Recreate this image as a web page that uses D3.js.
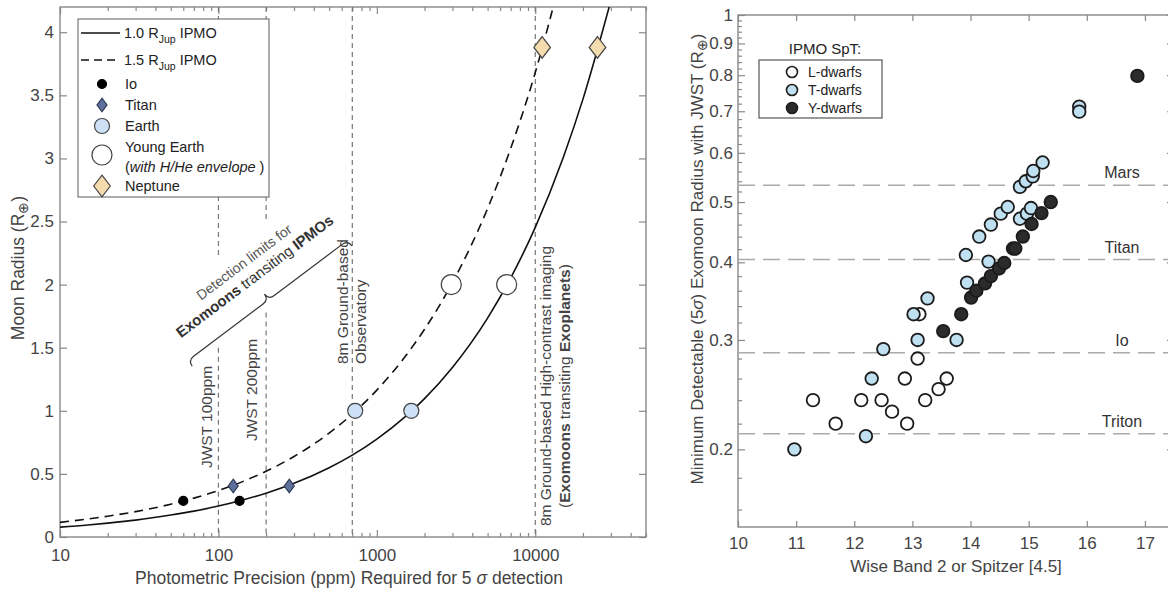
<!DOCTYPE html>
<html>
<head>
<meta charset="utf-8">
<script src="https://cdn.jsdelivr.net/npm/d3@7"></script>
<style>
  body { margin: 0; background: #fff; }
  svg { font-family: "Liberation Sans", Arial, sans-serif; }
</style>
</head>
<body>
<svg id="chart" width="1168" height="591"></svg>
<script>

// ---- panel A: radius vs photometric precision ----
const precision1Jup = [10, 15, 20, 30, 50, 70, 100, 150, 200, 300, 500, 700, 1000, 1500, 2000, 3000, 5000, 7000, 10000, 15000, 20000, 30000]
const radius1Jup = [0.078, 0.095, 0.110, 0.134, 0.174, 0.205, 0.245, 0.301, 0.347, 0.425, 0.549, 0.649, 0.776, 0.950, 1.097, 1.344, 1.735, 2.053, 2.454, 3.006, 3.470, 4.250]
const precision15Jup = [10, 15, 20, 30, 50, 70, 100, 150, 200, 300, 500, 700, 1000, 1500, 2000, 3000, 5000, 7000, 10000, 15000]
const radius15Jup = [0.116, 0.143, 0.165, 0.201, 0.260, 0.308, 0.368, 0.451, 0.521, 0.638, 0.823, 0.974, 1.164, 1.426, 1.646, 2.016, 2.603, 3.080, 3.681, 4.508]

const moonNames = ['Io', 'Titan', 'Earth', 'Young Earth', 'Neptune']
const moonRadius = [0.286, 0.404, 1.0, 2.0, 3.88]
const moonPpm1Jup = [136, 280, 1650, 6600, 24700]
const moonPpm15Jup = [60, 124, 730, 2950, 11050]

const limitPpm = [100, 200, 700, 10000]
const xTicksA = [10, 100, 1000, 10000]
const yTicksA = [0, 0.5, 1, 1.5, 2, 2.5, 3, 3.5, 4]

// ---- panel B: minimum detectable radius vs magnitude ----
const lDwarfMag = [11.29, 11.68, 12.12, 12.47, 12.65, 12.87, 12.91, 13.09, 13.12, 13.22, 13.45, 13.59]
const lDwarfRadius = [0.240, 0.220, 0.240, 0.240, 0.230, 0.260, 0.220, 0.280, 0.330, 0.240, 0.250, 0.260]
const tDwarfMag = [10.97, 12.20, 12.30, 12.50, 13.09, 13.02, 13.26, 13.76, 13.94, 13.92, 14.31, 14.15, 14.35, 14.52, 14.64, 14.85, 14.97, 15.04, 14.85, 14.95, 15.07, 15.08, 15.24, 15.87, 15.87]
const tDwarfRadius = [0.200, 0.210, 0.260, 0.290, 0.300, 0.330, 0.350, 0.300, 0.371, 0.411, 0.401, 0.440, 0.460, 0.479, 0.491, 0.470, 0.479, 0.489, 0.529, 0.540, 0.550, 0.561, 0.579, 0.712, 0.699]
const yDwarfMag = [13.53, 13.84, 14.01, 14.10, 14.25, 14.35, 14.49, 14.58, 14.73, 14.77, 14.90, 15.05, 15.22, 15.38, 16.87]
const yDwarfRadius = [0.310, 0.330, 0.351, 0.360, 0.370, 0.380, 0.391, 0.399, 0.421, 0.421, 0.440, 0.461, 0.480, 0.500, 0.798]

const refMoonNames = ['Mars', 'Titan', 'Io', 'Triton']
const refMoonRadius = [0.532, 0.404, 0.286, 0.212]

const xTicksB = [10, 11, 12, 13, 14, 15, 16, 17]
const yTicksB = [0.2, 0.3, 0.4, 0.5, 0.6, 0.7, 0.8, 0.9, 1]
const yMinorB = [0.16, 0.18, 0.22, 0.24, 0.26, 0.28, 0.32, 0.34, 0.36, 0.38, 0.42, 0.44, 0.46, 0.48, 0.52, 0.54, 0.56, 0.58, 0.62, 0.64, 0.66, 0.68, 0.72, 0.74, 0.76, 0.78, 0.82, 0.84, 0.86, 0.88, 0.92, 0.94, 0.96, 0.98]

const svg = d3.select('#chart')
const axisColor = '#888'
const textColor = '#444'

function styleAxis(g) {
    g.select('.domain').remove()
    g.selectAll('line').attr('stroke', axisColor).attr('stroke-width', 1.2)
    g.selectAll('text').attr('fill', textColor).style('font-size', '17px')
}

function diamond(w, h) {
    return `M0,${-h} L${w},0 L0,${h} L${-w},0 Z`
}

// marker styles per moon
const moonStyle = {
    'Io': { shape: 'circle', r: 4.5, fill: '#000', stroke: '#000' },
    'Titan': { shape: 'diamond', w: 5, h: 6.8, fill: '#5d6f9b', stroke: '#2f3a55' },
    'Earth': { shape: 'circle', r: 7.5, fill: '#cde0f6', stroke: '#444' },
    'Young Earth': { shape: 'circle', r: 10, fill: '#fff', stroke: '#444' },
    'Neptune': { shape: 'diamond', w: 8.3, h: 10.8, fill: '#f5dcae', stroke: '#444' }
}

function drawMarker(g, name, x, y) {
    const s = moonStyle[name]
    if (s.shape == 'circle') {
        g.append('circle').attr('cx', x).attr('cy', y).attr('r', s.r)
            .attr('fill', s.fill).attr('stroke', s.stroke).attr('stroke-width', 1.2)
    } else {
        g.append('path').attr('d', diamond(s.w, s.h)).attr('transform', `translate(${x},${y})`)
            .attr('fill', s.fill).attr('stroke', s.stroke).attr('stroke-width', 1.2)
    }
}

// ================= panel A =================
const A = { left: 60, right: 646, top: 7, bottom: 537 }
const xA = d3.scaleLog().domain([10, 50000]).range([A.left, A.right])
const yA = d3.scaleLinear().domain([0, 4.2]).range([A.bottom, A.top])

const gA = svg.append('g')

svg.append('clipPath').attr('id', 'clipA')
    .append('rect').attr('x', A.left).attr('y', A.top)
    .attr('width', A.right - A.left).attr('height', A.bottom - A.top)

// minor log ticks
const minorA = []
for (let dec = 10; dec < 50000; dec *= 10) {
    for (let k = 2; k <= 9; k++) if (dec * k <= 50000) minorA.push(dec * k)
}

gA.append('g').attr('transform', `translate(0,${A.bottom})`)
    .call(d3.axisBottom(xA).tickValues(xTicksA).tickFormat(d3.format('d')).tickSizeInner(-7).tickSizeOuter(0).tickPadding(12))
    .call(styleAxis)
gA.append('g').attr('transform', `translate(0,${A.bottom})`)
    .call(d3.axisBottom(xA).tickValues(minorA).tickFormat('').tickSizeInner(-4).tickSizeOuter(0))
    .call(styleAxis)
gA.append('g').attr('transform', `translate(0,${A.top})`)
    .call(d3.axisTop(xA).tickValues(xTicksA).tickFormat('').tickSizeInner(-7).tickSizeOuter(0))
    .call(styleAxis)
gA.append('g').attr('transform', `translate(0,${A.top})`)
    .call(d3.axisTop(xA).tickValues(minorA).tickFormat('').tickSizeInner(-4).tickSizeOuter(0))
    .call(styleAxis)
gA.append('g').attr('transform', `translate(${A.left},0)`)
    .call(d3.axisLeft(yA).tickValues(yTicksA).tickFormat(d3.format('~g')).tickSizeInner(-7).tickSizeOuter(0).tickPadding(6))
    .call(styleAxis)
gA.append('g').attr('transform', `translate(${A.right},0)`)
    .call(d3.axisRight(yA).tickValues(yTicksA).tickFormat('').tickSizeInner(-7).tickSizeOuter(0))
    .call(styleAxis)

gA.append('rect').attr('x', A.left).attr('y', A.top)
    .attr('width', A.right - A.left).attr('height', A.bottom - A.top)
    .attr('fill', 'none').attr('stroke', axisColor).attr('stroke-width', 1.4)

// detection limit lines (gaps where labels sit)
const limitGaps = {
    100: [[4.2, 2.22], [1.5, 0]],
    200: [[4.2, 2.5], [1.78, 0]],
    700: [[4.2, 0]],
    10000: [[4.2, 0]]
}
limitPpm.forEach(function (p) {
    limitGaps[p].forEach(function (seg) {
        gA.append('line')
            .attr('x1', xA(p)).attr('x2', xA(p))
            .attr('y1', yA(seg[0])).attr('y2', yA(seg[1]))
            .attr('stroke', '#777').attr('stroke-width', 1.2)
            .attr('stroke-dasharray', '5,4')
    })
})

// model curves
const line = d3.line().x((d) => xA(d[0])).y((d) => yA(d[1])).curve(d3.curveMonotoneX)
gA.append('path')
    .attr('d', line(precision1Jup.map((p, i) => [p, radius1Jup[i]])))
    .attr('clip-path', 'url(#clipA)')
    .attr('fill', 'none').attr('stroke', '#111').attr('stroke-width', 1.6)
gA.append('path')
    .attr('d', line(precision15Jup.map((p, i) => [p, radius15Jup[i]])))
    .attr('clip-path', 'url(#clipA)')
    .attr('fill', 'none').attr('stroke', '#111').attr('stroke-width', 1.6)
    .attr('stroke-dasharray', '9,6')

// moon markers on both curves
moonNames.forEach(function (name, i) {
    drawMarker(gA, name, xA(moonPpm15Jup[i]), yA(moonRadius[i]))
    drawMarker(gA, name, xA(moonPpm1Jup[i]), yA(moonRadius[i]))
})

// vertical labels
function vText(g, x, y, anchor) {
    return g.append('text')
        .attr('transform', `translate(${x},${y}) rotate(-90)`)
        .attr('text-anchor', anchor)
        .attr('fill', textColor)
        .style('font-size', '15.5px')
}
vText(gA, 212, 417, 'middle').text('JWST 100ppm')
vText(gA, 257, 390, 'middle').text('JWST 200ppm')
vText(gA, 348, 364, 'start').text('8m Ground-based')
vText(gA, 366, 364, 'start').text('Observatory')
vText(gA, 551, 386, 'middle').text('8m Ground-based High-contrast imaging')
const t2 = vText(gA, 570, 386, 'middle')
t2.append('tspan').text('(')
t2.append('tspan').attr('font-weight', 'bold').text('Exomoons')
t2.append('tspan').text(' transiting ')
t2.append('tspan').attr('font-weight', 'bold').text('Exoplanets')
t2.append('tspan').text(')')

// slanted annotation with brace
const ann = gA.append('g').attr('transform', 'translate(250,270) rotate(-37)')
ann.append('text').attr('x', 0).attr('y', -5).attr('text-anchor', 'middle')
    .attr('fill', '#555').style('font-size', '14px').text('Detection limits for')
const annT = ann.append('text').attr('x', 0).attr('y', 13).attr('text-anchor', 'middle')
    .attr('fill', '#333').style('font-size', '15px')
annT.append('tspan').attr('font-weight', 'bold').text('Exomoons')
annT.append('tspan').text(' transiting ')
annT.append('tspan').attr('font-weight', 'bold').text('IPMOs')

const bL = -104, bR = 96, bd = 42, br = 7, bc = -3
ann.append('path')
    .attr('d', `M${bL},${bd} Q${bL},${bd - br} ${bL + br},${bd - br} L${bc - br},${bd - br} Q${bc},${bd - br} ${bc},${bd - 2 * br} ` +
        `Q${bc},${bd - br} ${bc + br},${bd - br} L${bR - br},${bd - br} Q${bR},${bd - br} ${bR},${bd}`)
    .attr('fill', 'none').attr('stroke', '#333').attr('stroke-width', 1.2)

// axis titles
const yTitleA = gA.append('text')
    .attr('transform', 'translate(24,268) rotate(-90)')
    .attr('text-anchor', 'middle').attr('fill', textColor).style('font-size', '17.5px')
yTitleA.append('tspan').text('Moon Radius (R')
yTitleA.append('tspan').attr('dy', 4).style('font-size', '14px').text('⊕')
yTitleA.append('tspan').attr('dy', -4).text(')')

const xTitleA = gA.append('text').attr('x', 349).attr('y', 584)
    .attr('text-anchor', 'middle').attr('fill', textColor).style('font-size', '17.5px')
xTitleA.append('tspan').text('Photometric Precision (ppm) Required for 5 ')
xTitleA.append('tspan').attr('font-style', 'italic').text('σ')
xTitleA.append('tspan').text(' detection')

// legend A
const legA = gA.append('g')
legA.append('rect').attr('x', 78).attr('y', 19).attr('width', 191).attr('height', 178)
    .attr('fill', '#fff').attr('stroke', '#777').attr('stroke-width', 1.2)
legA.append('line').attr('x1', 81).attr('x2', 120).attr('y1', 33).attr('y2', 33)
    .attr('stroke', '#111').attr('stroke-width', 1.6)
legA.append('line').attr('x1', 81).attr('x2', 120).attr('y1', 60).attr('y2', 60)
    .attr('stroke', '#111').attr('stroke-width', 1.6).attr('stroke-dasharray', '8,5')

function jupLabel(y, txt) {
    const t = legA.append('text').attr('x', 124).attr('y', y).attr('fill', '#222').style('font-size', '14.5px')
    t.append('tspan').text(txt + ' R')
    t.append('tspan').attr('dy', 5).style('font-size', '10.5px').text('Jup')
    t.append('tspan').attr('dy', -5).text(' IPMO')
}
jupLabel(38, '1.0')
jupLabel(65, '1.5')

const legY = [84, 105, 126, 155, 186]
moonNames.forEach(function (name, i) {
    drawMarker(legA, name, 102, legY[i])
})
const legText = ['Io', 'Titan', 'Earth', 'Young Earth', 'Neptune']
legText.forEach(function (txt, i) {
    const y = i == 3 ? 152 : legY[i] + 5
    legA.append('text').attr('x', 125).attr('y', y).attr('fill', '#222')
        .style('font-size', '14.5px').text(txt)
})
const env = legA.append('text').attr('x', 125).attr('y', 172).attr('fill', '#222').style('font-size', '14.5px')
env.append('tspan').text('(')
env.append('tspan').attr('font-style', 'italic').text('with H/He envelope')
env.append('tspan').text(' )')

// ================= panel B =================
const B = { left: 738, right: 1174, top: 15, bottom: 527 }
const xB = d3.scaleLinear().domain([10, 17.5]).range([B.left, B.right])
const yB = d3.scaleLog().domain([0.15, 1]).range([B.bottom, B.top])

const gB = svg.append('g')

gB.append('g').attr('transform', `translate(0,${B.bottom})`)
    .call(d3.axisBottom(xB).tickValues(xTicksB).tickFormat(d3.format('d')).tickSizeInner(-6).tickSizeOuter(0).tickPadding(10))
    .call(styleAxis)
gB.append('g').attr('transform', `translate(0,${B.top})`)
    .call(d3.axisTop(xB).tickValues(xTicksB).tickFormat('').tickSizeInner(-6).tickSizeOuter(0))
    .call(styleAxis)
gB.append('g').attr('transform', `translate(${B.left},0)`)
    .call(d3.axisLeft(yB).tickValues(yTicksB).tickFormat(d3.format('~g')).tickSizeInner(-7).tickSizeOuter(0).tickPadding(5))
    .call(styleAxis)
gB.append('g').attr('transform', `translate(${B.left},0)`)
    .call(d3.axisLeft(yB).tickValues(yMinorB).tickFormat('').tickSizeInner(-4).tickSizeOuter(0))
    .call(styleAxis)
gB.append('g').attr('transform', `translate(${B.right},0)`)
    .call(d3.axisRight(yB).tickValues(yTicksB).tickFormat('').tickSizeInner(-7).tickSizeOuter(0))
    .call(styleAxis)
gB.append('g').attr('transform', `translate(${B.right},0)`)
    .call(d3.axisRight(yB).tickValues(yMinorB).tickFormat('').tickSizeInner(-4).tickSizeOuter(0))
    .call(styleAxis)

gB.append('rect').attr('x', B.left).attr('y', B.top)
    .attr('width', B.right - B.left).attr('height', B.bottom - B.top)
    .attr('fill', 'none').attr('stroke', axisColor).attr('stroke-width', 1.4)

// reference moon radii
refMoonNames.forEach(function (name, i) {
    gB.append('line')
        .attr('x1', B.left).attr('x2', B.right)
        .attr('y1', yB(refMoonRadius[i])).attr('y2', yB(refMoonRadius[i]))
        .attr('stroke', '#aaa').attr('stroke-width', 1.5).attr('stroke-dasharray', '17,8')
    gB.append('text').attr('x', 1122).attr('y', yB(refMoonRadius[i]) - 7)
        .attr('text-anchor', 'middle').attr('fill', '#333').style('font-size', '16px').text(name)
})

// dwarf points
const dwarfGroups = [
    { mag: lDwarfMag, rad: lDwarfRadius, fill: '#fff' },
    { mag: tDwarfMag, rad: tDwarfRadius, fill: '#bfe0f1' },
    { mag: yDwarfMag, rad: yDwarfRadius, fill: '#2b2b2b' }
]
dwarfGroups.forEach(function (grp) {
    gB.append('g')
        .selectAll('circle')
        .data(grp.mag.map((m, i) => [m, grp.rad[i]]))
        .join('circle')
        .attr('cx', (d) => xB(d[0]))
        .attr('cy', (d) => yB(d[1]))
        .attr('r', 6.3)
        .attr('fill', grp.fill)
        .attr('stroke', '#1c1c1c')
        .attr('stroke-width', 1.8)
})

// legend B
gB.append('text').attr('x', 825).attr('y', 54).attr('text-anchor', 'middle')
    .attr('fill', '#222').style('font-size', '15px').text('IPMO SpT:')
gB.append('rect').attr('x', 759).attr('y', 60).attr('width', 123).attr('height', 58)
    .attr('fill', '#fff').attr('stroke', '#555').attr('stroke-width', 1.2)
const legBText = ['L-dwarfs', 'T-dwarfs', 'Y-dwarfs']
const legBY = [72, 90, 108]
legBText.forEach(function (txt, i) {
    gB.append('circle').attr('cx', 792).attr('cy', legBY[i]).attr('r', 5.5)
        .attr('fill', dwarfGroups[i].fill).attr('stroke', '#1c1c1c').attr('stroke-width', 1.6)
    gB.append('text').attr('x', 808).attr('y', legBY[i] + 5).attr('fill', '#222')
        .style('font-size', '14px').text(txt)
})

// axis titles
const yTitleB = gB.append('text')
    .attr('transform', 'translate(703,259) rotate(-90)')
    .attr('text-anchor', 'middle').attr('fill', textColor).style('font-size', '17px')
yTitleB.append('tspan').text('Minimum Detectable (5')
yTitleB.append('tspan').attr('font-style', 'italic').text('σ')
yTitleB.append('tspan').text(') Exomoon Radius with JWST  (R')
yTitleB.append('tspan').attr('dy', 4).style('font-size', '13.5px').text('⊕')
yTitleB.append('tspan').attr('dy', -4).text(')')

gB.append('text').attr('x', 956).attr('y', 572).attr('text-anchor', 'middle')
    .attr('fill', textColor).style('font-size', '17px').text('Wise Band 2 or Spitzer [4.5]')

</script>
</body>
</html>
